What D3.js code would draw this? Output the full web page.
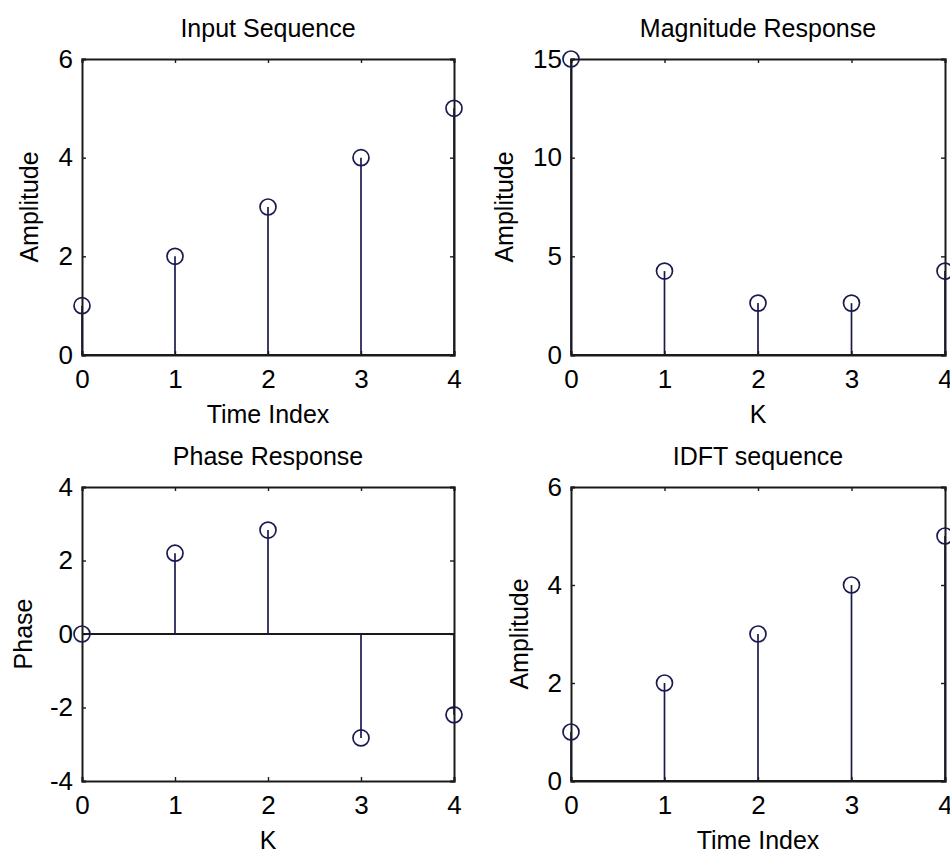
<!DOCTYPE html>
<html>
<head>
<meta charset="utf-8">
<script src="https://cdn.jsdelivr.net/npm/d3@7"></script>
<style>
  html, body { margin: 0; padding: 0; background: #fff; }
  svg { display: block; }
  text { font-family: "Liberation Sans", Arial, Helvetica, sans-serif; fill: #000; }
</style>
</head>
<body>
<svg id="chart" width="950" height="855"></svg>
<script>
// x[n] = [1 2 3 4 5], its 5-point DFT and the inverse DFT
const sampleIndex = [0, 1, 2, 3, 4];
const inputSeq = [1, 2, 3, 4, 5];
const magnitude = [15, 4.253, 2.629, 2.629, 4.253];
const phase = [0, 2.199, 2.827, -2.827, -2.199];
const idftSeq = [1, 2, 3, 4, 5];

const xTicks = [0, 1, 2, 3, 4];
const ampTicks = [0, 2, 4, 6];
const magTicks = [0, 5, 10, 15];
const phaseTicks = [-4, -2, 0, 2, 4];

const panels = [
  { title: "Input Sequence", xlabel: "Time Index", ylabel: "Amplitude",
    values: inputSeq, yDomain: [0, 6], yTicks: ampTicks,
    box: { left: 82, right: 454, top: 59, bottom: 355 }, ylabelOffset: 44 },
  { title: "Magnitude Response", xlabel: "K", ylabel: "Amplitude",
    values: magnitude, yDomain: [0, 15], yTicks: magTicks,
    box: { left: 571, right: 945, top: 59, bottom: 355 }, ylabelOffset: 58 },
  { title: "Phase Response", xlabel: "K", ylabel: "Phase",
    values: phase, yDomain: [-4, 4], yTicks: phaseTicks,
    box: { left: 82, right: 454, top: 487, bottom: 781 }, ylabelOffset: 50 },
  { title: "IDFT sequence", xlabel: "Time Index", ylabel: "Amplitude",
    values: idftSeq, yDomain: [0, 6], yTicks: ampTicks,
    box: { left: 571, right: 945, top: 487, bottom: 781 }, ylabelOffset: 43 }
];

const svg = d3.select("#chart");
const stemColor = "#1a1a50";
const axisColor = "#1a1a1a";
const tickLen = 4;
// plain hyphen for negative tick labels
const tickFmt = d => String(d);

panels.forEach(p => {
  const b = p.box;
  const x = d3.scaleLinear().domain([0, 4]).range([b.left, b.right]);
  const y = d3.scaleLinear().domain(p.yDomain).range([b.bottom, b.top]);
  const g = svg.append("g");

  // stem baseline at zero
  g.append("line")
    .attr("x1", x(0)).attr("x2", x(4))
    .attr("y1", y(0)).attr("y2", y(0))
    .attr("stroke", axisColor).attr("stroke-width", 1.8);

  // stems
  g.selectAll("line.stem").data(sampleIndex).enter().append("line")
    .attr("class", "stem")
    .attr("x1", d => x(d)).attr("x2", d => x(d))
    .attr("y1", y(0)).attr("y2", (d, i) => y(p.values[i]))
    .attr("stroke", stemColor).attr("stroke-width", 1.7);

  // axes (box with inward ticks on all sides)
  const bottomAxis = d3.axisBottom(x).tickValues(xTicks).tickSize(-tickLen).tickPadding(10).tickFormat(tickFmt);
  const topAxis = d3.axisTop(x).tickValues(xTicks).tickSize(-tickLen).tickFormat("");
  const leftAxis = d3.axisLeft(y).tickValues(p.yTicks).tickSize(-tickLen).tickPadding(9).tickFormat(tickFmt);
  const rightAxis = d3.axisRight(y).tickValues(p.yTicks).tickSize(-tickLen).tickFormat("");

  const styleAxis = sel => {
    sel.select(".domain").attr("stroke", axisColor).attr("stroke-width", 2);
    sel.selectAll(".tick line").attr("stroke", axisColor).attr("stroke-width", 1.4);
    sel.selectAll(".tick text").attr("font-size", 26).attr("fill", "#000")
      .attr("font-family", '"Liberation Sans", Arial, sans-serif');
  };

  g.append("g").attr("transform", `translate(0,${b.bottom})`).call(bottomAxis).call(styleAxis)
    .selectAll(".tick text").attr("dy", "0.88em");
  g.append("g").attr("transform", `translate(0,${b.top})`).call(topAxis).call(styleAxis);
  g.append("g").attr("transform", `translate(${b.left},0)`).call(leftAxis).call(styleAxis);
  g.append("g").attr("transform", `translate(${b.right},0)`).call(rightAxis).call(styleAxis);

  // markers
  g.selectAll("circle.marker").data(sampleIndex).enter().append("circle")
    .attr("class", "marker")
    .attr("cx", d => x(d)).attr("cy", (d, i) => y(p.values[i]))
    .attr("r", 8)
    .attr("fill", "none")
    .attr("stroke", stemColor).attr("stroke-width", 1.7);

  // title
  g.append("text")
    .attr("x", (b.left + b.right) / 2).attr("y", b.top - 22)
    .attr("text-anchor", "middle").attr("font-size", 25)
    .text(p.title);

  // x label
  g.append("text")
    .attr("x", (b.left + b.right) / 2).attr("y", b.bottom + 68)
    .attr("text-anchor", "middle").attr("font-size", 25)
    .text(p.xlabel);

  // y label
  g.append("text")
    .attr("transform", `translate(${b.left - p.ylabelOffset},${(b.top + b.bottom) / 2}) rotate(-90)`)
    .attr("text-anchor", "middle").attr("font-size", 25)
    .text(p.ylabel);
});
</script>
</body>
</html>
